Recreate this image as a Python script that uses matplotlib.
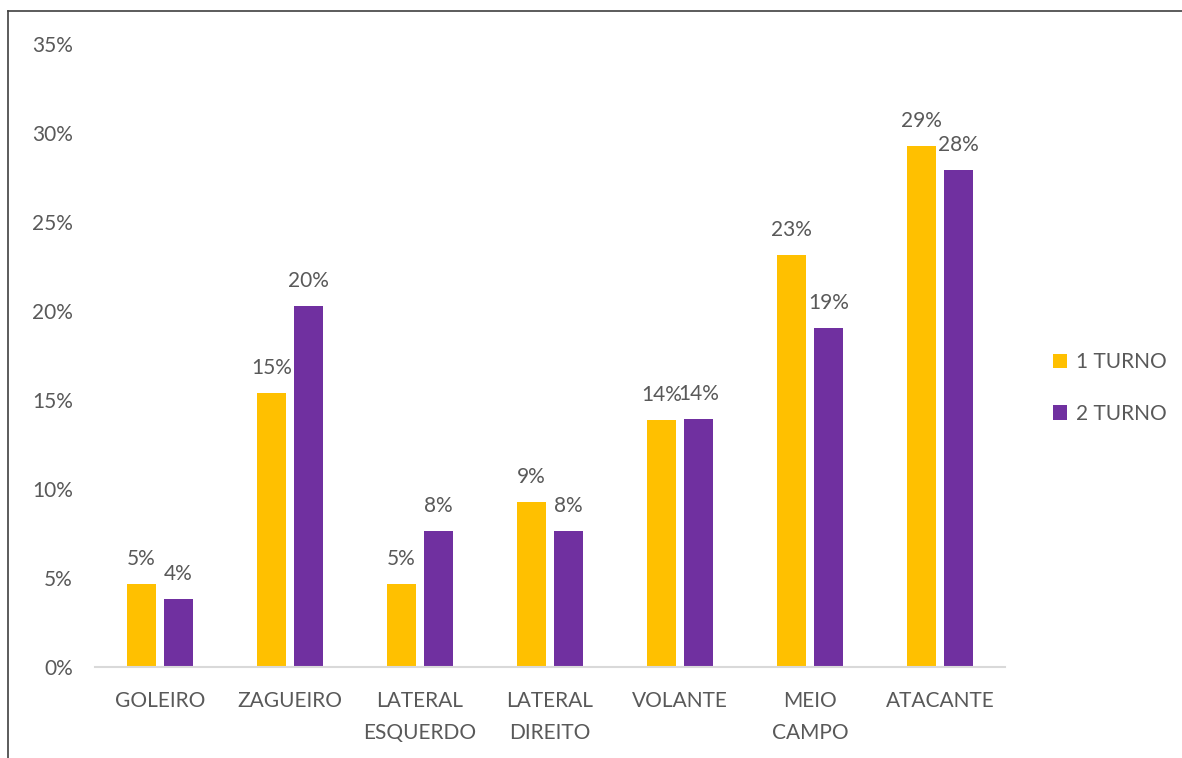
import matplotlib
matplotlib.use("Agg")
import matplotlib.pyplot as plt
import numpy as np
from matplotlib.ticker import FuncFormatter, MultipleLocator
from matplotlib.lines import Line2D

categories = ["GOLEIRO", "ZAGUEIRO", "LATERAL\nESQUERDO", "LATERAL\nDIREITO",
              "VOLANTE", "MEIO\nCAMPO", "ATACANTE"]
turno1 = [0.0466, 0.1539, 0.0466, 0.0927, 0.1388, 0.2315, 0.2927]
turno2 = [0.0382, 0.2028, 0.0764, 0.0764, 0.1393, 0.1904, 0.2792]
series_names = ["1 TURNO", "2 TURNO"]
colors = ["#FFC000", "#7030A0"]

plt.rcParams['font.family'] = ['Lato', 'DejaVu Sans']
text_color = "#595959"
fs = 15

fig = plt.figure(figsize=(11.82, 7.58), dpi=100)
W, H = 1182, 758
ax = fig.add_axes([95 / W, 1 - 667 / H, (1005 - 95) / W, (667 - 44) / H])

x = np.arange(len(categories))
width = 0.225
off = 0.142
b1 = ax.bar(x - off, turno1, width, color=colors[0], label=series_names[0])
b2 = ax.bar(x + off, turno2, width, color=colors[1], label=series_names[1])

for bars, vals in ((b1, turno1), (b2, turno2)):
    for rect, v in zip(bars, vals):
        ax.annotate(f"{v:.0%}", (rect.get_x() + rect.get_width() / 2, v),
                    xytext=(0, 19), textcoords="offset pixels",
                    ha="center", va="baseline", fontsize=fs, color=text_color)

ax.set_ylim(0, 0.35)
ax.set_xlim(-0.5, len(categories) - 0.5)
ax.yaxis.set_major_locator(MultipleLocator(0.05))
ax.yaxis.set_major_formatter(FuncFormatter(lambda v, p: f"{v:.0%}"))
ax.set_xticks(x)
ax.set_xticklabels(categories, linespacing=1.75)
ax.tick_params(axis="both", length=0, labelsize=fs, labelcolor=text_color)
ax.tick_params(axis="y", pad=16)
ax.tick_params(axis="x", pad=17)
for s in ("top", "right", "left"):
    ax.spines[s].set_visible(False)
ax.spines["bottom"].set_color("#D9D9D9")
ax.spines["bottom"].set_linewidth(1.5)

leg = fig.legend(handles=[b1, b2], labels=series_names, loc="center left",
                 bbox_to_anchor=(1034 / W, 1 - 388 / H), frameon=False,
                 fontsize=fs, handlelength=0.7, handleheight=0.7,
                 handletextpad=0.4, labelspacing=1.5)
for t in leg.get_texts():
    t.set_color(text_color)

# outer chart border (top and left visible)
fig.add_artist(Line2D([8 / W, 8 / W], [0, 1 - 11 / H], color="#404040", lw=1.2,
                      transform=fig.transFigure))
fig.add_artist(Line2D([8 / W, 1], [1 - 11 / H, 1 - 11 / H], color="#404040", lw=1.2,
                      transform=fig.transFigure))

fig.savefig("out.png", dpi=100)
